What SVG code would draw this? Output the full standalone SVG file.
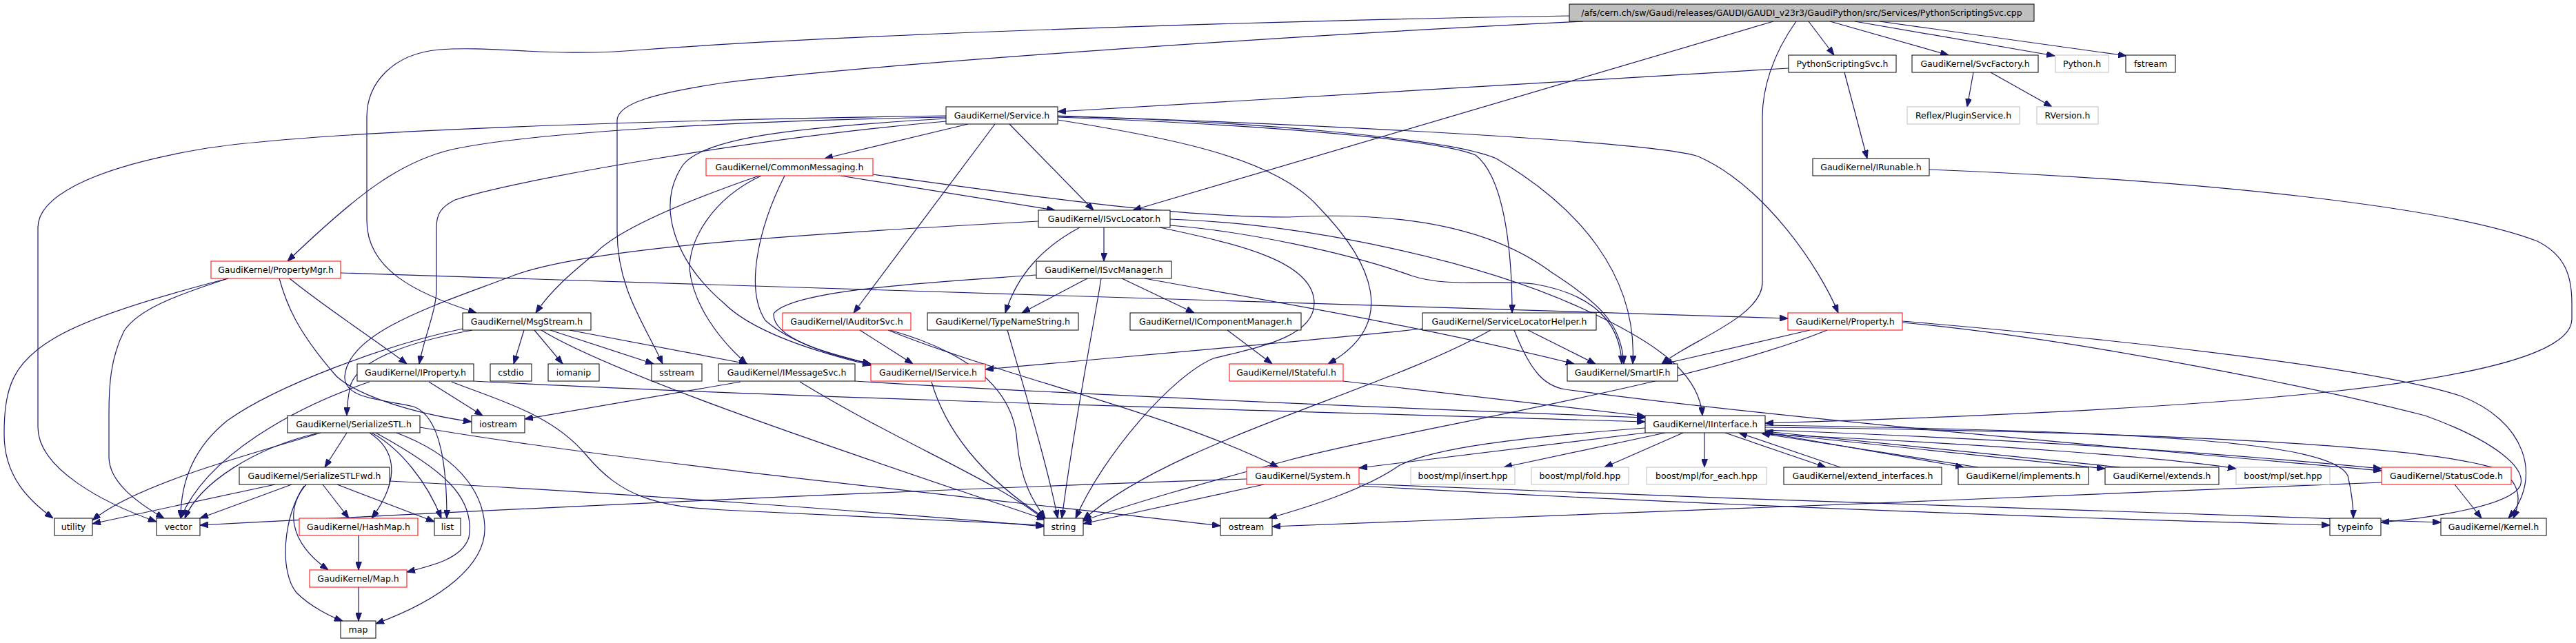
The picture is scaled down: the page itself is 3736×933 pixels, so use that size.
<svg xmlns="http://www.w3.org/2000/svg" width="3736" height="933" viewBox="0 0 3736 933">
<style>
.n rect{fill:#ffffff;stroke:#000000;stroke-width:1}
.n.r rect{stroke:#ff0000}
.n.g rect{stroke:#bfbfbf}
.n.root rect{fill:#bfbfbf}
text{font-family:"DejaVu Sans","Liberation Sans",sans-serif;font-size:12.5px;text-anchor:middle;fill:#000000}
#edges path{fill:none;stroke:#191970;stroke-width:1.2;marker-end:url(#a)}
</style>
<defs>
<marker id="a" markerWidth="12" markerHeight="9" refX="12" refY="4.5" orient="auto" markerUnits="userSpaceOnUse"><path d="M0,0 L12,4.5 L0,9 z" fill="#191970" stroke="#191970" stroke-width="1"/></marker>
</defs>
<rect x="0" y="0" width="3736" height="933" fill="#ffffff"/>
<g id="edges">
<path d="M2276,23 C2000,27 1300,45 934,72 C800,84 720,66 637,72 C570,78 532,120 532,170 L532,320 C532,390 600,425 691,454"/>
<path d="M2296,31 C1900,50 1300,90 1050,120 C950,135 895,150 895,175 L895,335 C895,420 935,470 961,528"/>
<path d="M2572,31 L1643,305"/>
<path d="M2605,31 C2570,80 2556,130 2556,170 L2556,410 C2556,460 2450,495 2410,528"/>
<path d="M2623,31 L2660,80"/>
<path d="M2654,31 L2826,80"/>
<path d="M2690,31 L2980,81"/>
<path d="M2726,31 L3084,81"/>
<path d="M2594,99 L1534,162"/>
<path d="M2675,105 L2708,230"/>
<path d="M2862,105 L2853,155"/>
<path d="M2887,105 L2976,155"/>
<path d="M2798,246 C3200,262 3550,300 3680,350 C3720,370 3730,400 3730,440 L3730,463 C3730,560 3200,595 2560,614"/>
<path d="M1404,180 L1196,230"/>
<path d="M1443,180 L1238,454"/>
<path d="M1464,180 L1586,305"/>
<path d="M1372,168 C1100,172 500,185 300,215 C120,245 55,290 55,330 L55,620 C55,680 150,730 227,757"/>
<path d="M1372,170 C1100,175 780,190 655,217 C580,235 520,280 417,379"/>
<path d="M1372,176 C1100,200 750,260 660,290 C640,300 633,310 633,330 L633,420 C633,450 615,490 608,528"/>
<path d="M1372,172 C1150,185 1020,200 990,240 C950,300 980,380 1050,440 C1090,480 1180,510 1263,530"/>
<path d="M1534,170 C1800,180 2080,200 2140,225 C2185,260 2193,380 2193,454"/>
<path d="M1534,169 C1800,175 2100,200 2170,230 C2290,300 2375,400 2368,528"/>
<path d="M1534,168 C1900,180 2400,205 2463,227 C2560,270 2640,390 2666,454"/>
<path d="M1534,174 C1700,200 1850,230 1912,300 C1990,380 2030,470 1926,528"/>
<path d="M1219,255 L1530,305"/>
<path d="M1266,253 C1500,285 1700,315 1868,315 C2000,308 2150,320 2250,395 C2320,440 2352,470 2355,528"/>
<path d="M1101,255 C1000,290 900,330 864,367 C830,395 800,420 777,454"/>
<path d="M1104,255 C1030,290 1000,350 1000,390 C1005,440 1040,490 1083,528"/>
<path d="M1138,255 C1100,330 1080,420 1110,465 C1150,500 1210,515 1263,528"/>
<path d="M1601,330 L1601,379"/>
<path d="M1566,330 C1510,360 1475,400 1458,454"/>
<path d="M1506,321 C1150,340 850,360 744,400 C640,440 505,480 500,546 C498,580 560,580 600,590 C640,605 648,680 648,752"/>
<path d="M685,479 C600,495 520,520 508,560 C504,580 503,590 503,603"/>
<path d="M1697,318 C1900,325 2150,380 2300,450 C2420,505 2465,550 2469,603"/>
<path d="M1697,327 C1800,335 1950,365 2047,400 C2100,418 2170,405 2225,412 C2300,425 2350,460 2352,528"/>
<path d="M1682,330 C1800,355 1906,380 1906,440 C1906,490 1820,505 1760,520 C1700,545 1600,660 1560,752"/>
<path d="M1577,404 L1482,454"/>
<path d="M1597,404 C1585,480 1560,600 1540,752"/>
<path d="M1627,404 L1732,454"/>
<path d="M1660,404 C1800,430 2050,470 2283,528"/>
<path d="M1503,399 C1350,410 1150,420 1122,455 C1120,490 1200,515 1263,528"/>
<path d="M1780,479 L1845,528"/>
<path d="M1247,479 L1324,528"/>
<path d="M1288,479 C1450,545 1700,600 1854,678"/>
<path d="M1291,479 C1400,510 1470,560 1475,640 C1480,700 1500,730 1516,752"/>
<path d="M1461,479 C1490,580 1520,680 1534,752"/>
<path d="M2216,479 L2314,528"/>
<path d="M2063,477 C1900,495 1600,520 1429,536"/>
<path d="M2162,479 C2000,570 1700,640 1571,754"/>
<path d="M2196,479 C2220,540 2240,560 2270,565 C2600,610 3200,660 3454,683"/>
<path d="M2625,479 L2413,528"/>
<path d="M2650,479 C2450,560 2050,620 1868,668 C1750,700 1640,730 1571,756"/>
<path d="M2759,466 C3100,495 3450,535 3570,575 C3660,610 3690,690 3638,752"/>
<path d="M2759,468 C3000,490 3350,560 3517,603 C3620,640 3665,680 3655,705 C3640,735 3520,752 3453,758"/>
<path d="M3560,703 L3599,752"/>
<path d="M3454,700 C3000,720 2200,750 1845,764"/>
<path d="M1971,702 C2500,725 3200,745 3540,758"/>
<path d="M1971,705 C2500,735 3100,755 3379,762"/>
<path d="M1833,703 L1571,760"/>
<path d="M1808,695 C1500,705 1000,725 290,762"/>
<path d="M2386,628 L1971,679"/>
<path d="M2415,628 L2181,678"/>
<path d="M2441,628 L2327,678"/>
<path d="M2472,628 L2472,678"/>
<path d="M2502,628 L2648,678"/>
<path d="M2669,678 L2522,628"/>
<path d="M2557,627 L2848,678"/>
<path d="M2869,678 L2555,629"/>
<path d="M2558,628 L3053,680"/>
<path d="M3075,678 L2560,626"/>
<path d="M2560,630 C2900,645 3150,665 3243,680"/>
<path d="M2560,624 C3000,640 3300,665 3454,680"/>
<path d="M2560,617 C3100,625 3380,640 3405,690 C3412,720 3413,740 3413,752"/>
<path d="M2560,620 C3000,625 3500,640 3620,680 C3660,700 3655,730 3645,752"/>
<path d="M2386,621 C2200,635 2080,650 2030,675 C1980,710 1900,735 1840,752"/>
<path d="M1240,553 C1600,575 2100,595 2386,606"/>
<path d="M1074,554 L761,608"/>
<path d="M1160,554 C1300,640 1450,700 1514,754"/>
<path d="M1351,554 C1370,620 1420,690 1516,752"/>
<path d="M1948,553 L2386,604"/>
<path d="M687,553 C1200,580 2000,600 2386,612"/>
<path d="M622,554 L700,603"/>
<path d="M536,554 C430,590 300,660 262,752"/>
<path d="M655,554 C720,580 800,600 850,660 C900,720 950,735 1050,740 C1300,752 1450,758 1514,762"/>
<path d="M760,479 L745,528"/>
<path d="M775,479 L816,528"/>
<path d="M798,479 L948,528"/>
<path d="M826,479 L1084,528"/>
<path d="M785,479 C900,550 1300,680 1516,754"/>
<path d="M671,477 C560,500 400,560 330,610 C280,650 262,700 262,752"/>
<path d="M331,404 C230,430 130,460 80,490 C20,525 6,560 6,630 C6,690 40,725 77,752"/>
<path d="M331,404 C250,430 200,450 180,480 C160,520 158,560 158,600 L158,663 C158,700 200,730 238,752"/>
<path d="M405,404 C415,440 430,480 488,546 C520,575 600,600 684,612"/>
<path d="M420,404 C470,445 540,490 590,528"/>
<path d="M494,396 C1200,420 2000,440 2593,462"/>
<path d="M503,628 L471,678"/>
<path d="M465,628 C380,655 200,700 134,755"/>
<path d="M459,629 C370,650 290,700 268,752"/>
<path d="M536,628 C570,650 585,690 539,752"/>
<path d="M539,628 C580,650 620,700 640,752"/>
<path d="M545,628 C640,680 690,720 680,780 C670,810 630,820 590,830"/>
<path d="M575,628 C660,660 700,710 703,763 C706,820 640,870 545,905"/>
<path d="M609,620 C900,670 1400,720 1770,763"/>
<path d="M399,703 L134,760"/>
<path d="M423,703 L290,752"/>
<path d="M468,703 L506,752"/>
<path d="M489,703 L630,757"/>
<path d="M444,703 C420,730 410,780 476,827"/>
<path d="M441,705 C410,750 405,830 430,860 C450,880 480,895 497,901"/>
<path d="M565,698 C900,715 1300,745 1514,764"/>
<path d="M520,777 L520,827"/>
<path d="M520,852 L520,901"/>
</g>
<g id="node_root" class="n root"><rect x="2276" y="6" width="674" height="25"/><text x="2613" y="23">/afs/cern.ch/sw/Gaudi/releases/GAUDI/GAUDI_v23r3/GaudiPython/src/Services/PythonScriptingSvc.cpp</text></g>
<g id="node_pss" class="n"><rect x="2594" y="80" width="156" height="25"/><text x="2672" y="97">PythonScriptingSvc.h</text></g>
<g id="node_svcfactory" class="n"><rect x="2773" y="80" width="183" height="25"/><text x="2864.5" y="97">GaudiKernel/SvcFactory.h</text></g>
<g id="node_python" class="n g"><rect x="2981" y="80" width="77" height="25"/><text x="3019.5" y="97">Python.h</text></g>
<g id="node_fstream" class="n"><rect x="3083" y="80" width="72" height="25"/><text x="3119" y="97">fstream</text></g>
<g id="node_service" class="n"><rect x="1372" y="155" width="162" height="25"/><text x="1453" y="172">GaudiKernel/Service.h</text></g>
<g id="node_reflex" class="n g"><rect x="2766" y="155" width="163" height="25"/><text x="2847.5" y="172">Reflex/PluginService.h</text></g>
<g id="node_rversion" class="n g"><rect x="2954" y="155" width="89" height="25"/><text x="2998.5" y="172">RVersion.h</text></g>
<g id="node_common" class="n r"><rect x="1024" y="230" width="242" height="25"/><text x="1145" y="247">GaudiKernel/CommonMessaging.h</text></g>
<g id="node_irunable" class="n"><rect x="2629" y="230" width="169" height="25"/><text x="2713.5" y="247">GaudiKernel/IRunable.h</text></g>
<g id="node_isvclocator" class="n"><rect x="1506" y="305" width="191" height="25"/><text x="1601.5" y="322">GaudiKernel/ISvcLocator.h</text></g>
<g id="node_propertymgr" class="n r"><rect x="306" y="379" width="188" height="25"/><text x="400" y="396">GaudiKernel/PropertyMgr.h</text></g>
<g id="node_isvcmanager" class="n"><rect x="1503" y="379" width="196" height="25"/><text x="1601" y="396">GaudiKernel/ISvcManager.h</text></g>
<g id="node_msgstream" class="n"><rect x="671" y="454" width="186" height="25"/><text x="764" y="471">GaudiKernel/MsgStream.h</text></g>
<g id="node_iauditorsvc" class="n r"><rect x="1135" y="454" width="186" height="25"/><text x="1228" y="471">GaudiKernel/IAuditorSvc.h</text></g>
<g id="node_typenamestring" class="n"><rect x="1345" y="454" width="219" height="25"/><text x="1454.5" y="471">GaudiKernel/TypeNameString.h</text></g>
<g id="node_icomponentmanager" class="n"><rect x="1639" y="454" width="248" height="25"/><text x="1763" y="471">GaudiKernel/IComponentManager.h</text></g>
<g id="node_servicelocatorhelper" class="n"><rect x="2063" y="454" width="252" height="25"/><text x="2189" y="471">GaudiKernel/ServiceLocatorHelper.h</text></g>
<g id="node_property" class="n r"><rect x="2593" y="454" width="166" height="25"/><text x="2676" y="471">GaudiKernel/Property.h</text></g>
<g id="node_iproperty" class="n"><rect x="518" y="528" width="169" height="25"/><text x="602.5" y="545">GaudiKernel/IProperty.h</text></g>
<g id="node_cstdio" class="n"><rect x="711" y="528" width="60" height="25"/><text x="741" y="545">cstdio</text></g>
<g id="node_iomanip" class="n"><rect x="795" y="528" width="74" height="25"/><text x="832" y="545">iomanip</text></g>
<g id="node_sstream" class="n"><rect x="945" y="528" width="73" height="25"/><text x="981.5" y="545">sstream</text></g>
<g id="node_imessagesvc" class="n"><rect x="1042" y="528" width="198" height="25"/><text x="1141" y="545">GaudiKernel/IMessageSvc.h</text></g>
<g id="node_iservice" class="n r"><rect x="1263" y="528" width="166" height="25"/><text x="1346" y="545">GaudiKernel/IService.h</text></g>
<g id="node_istateful" class="n r"><rect x="1783" y="528" width="165" height="25"/><text x="1865.5" y="545">GaudiKernel/IStateful.h</text></g>
<g id="node_smartif" class="n"><rect x="2273" y="528" width="160" height="25"/><text x="2353" y="545">GaudiKernel/SmartIF.h</text></g>
<g id="node_serializestl" class="n"><rect x="417" y="603" width="192" height="25"/><text x="513" y="620">GaudiKernel/SerializeSTL.h</text></g>
<g id="node_iostream" class="n"><rect x="684" y="603" width="77" height="25"/><text x="722.5" y="620">iostream</text></g>
<g id="node_iinterface" class="n"><rect x="2386" y="603" width="174" height="25"/><text x="2473" y="620">GaudiKernel/IInterface.h</text></g>
<g id="node_serializestlfwd" class="n"><rect x="347" y="678" width="218" height="25"/><text x="456" y="695">GaudiKernel/SerializeSTLFwd.h</text></g>
<g id="node_system" class="n r"><rect x="1808" y="678" width="163" height="25"/><text x="1889.5" y="695">GaudiKernel/System.h</text></g>
<g id="node_insert" class="n g"><rect x="2046" y="678" width="151" height="25"/><text x="2121.5" y="695">boost/mpl/insert.hpp</text></g>
<g id="node_fold" class="n g"><rect x="2221" y="678" width="141" height="25"/><text x="2291.5" y="695">boost/mpl/fold.hpp</text></g>
<g id="node_foreach" class="n g"><rect x="2388" y="678" width="174" height="25"/><text x="2475" y="695">boost/mpl/for_each.hpp</text></g>
<g id="node_extendinterfaces" class="n"><rect x="2587" y="678" width="229" height="25"/><text x="2701.5" y="695">GaudiKernel/extend_interfaces.h</text></g>
<g id="node_implements" class="n"><rect x="2840" y="678" width="189" height="25"/><text x="2934.5" y="695">GaudiKernel/implements.h</text></g>
<g id="node_extends" class="n"><rect x="3053" y="678" width="165" height="25"/><text x="3135.5" y="695">GaudiKernel/extends.h</text></g>
<g id="node_set" class="n g"><rect x="3243" y="678" width="136" height="25"/><text x="3311" y="695">boost/mpl/set.hpp</text></g>
<g id="node_statuscode" class="n r"><rect x="3454" y="678" width="188" height="25"/><text x="3548" y="695">GaudiKernel/StatusCode.h</text></g>
<g id="node_utility" class="n"><rect x="79" y="752" width="55" height="25"/><text x="106.5" y="769">utility</text></g>
<g id="node_vector" class="n"><rect x="227" y="752" width="63" height="25"/><text x="258.5" y="769">vector</text></g>
<g id="node_hashmap" class="n r"><rect x="434" y="752" width="172" height="25"/><text x="520" y="769">GaudiKernel/HashMap.h</text></g>
<g id="node_list" class="n"><rect x="630" y="752" width="38" height="25"/><text x="649" y="769">list</text></g>
<g id="node_string" class="n"><rect x="1514" y="752" width="57" height="25"/><text x="1542.5" y="769">string</text></g>
<g id="node_ostream" class="n"><rect x="1770" y="752" width="75" height="25"/><text x="1807.5" y="769">ostream</text></g>
<g id="node_typeinfo" class="n"><rect x="3379" y="752" width="74" height="25"/><text x="3416" y="769">typeinfo</text></g>
<g id="node_kernel" class="n"><rect x="3540" y="752" width="153" height="25"/><text x="3616.5" y="769">GaudiKernel/Kernel.h</text></g>
<g id="node_maph" class="n r"><rect x="449" y="827" width="141" height="25"/><text x="519.5" y="844">GaudiKernel/Map.h</text></g>
<g id="node_map" class="n"><rect x="494" y="901" width="51" height="25"/><text x="519.5" y="918">map</text></g>
</svg>
